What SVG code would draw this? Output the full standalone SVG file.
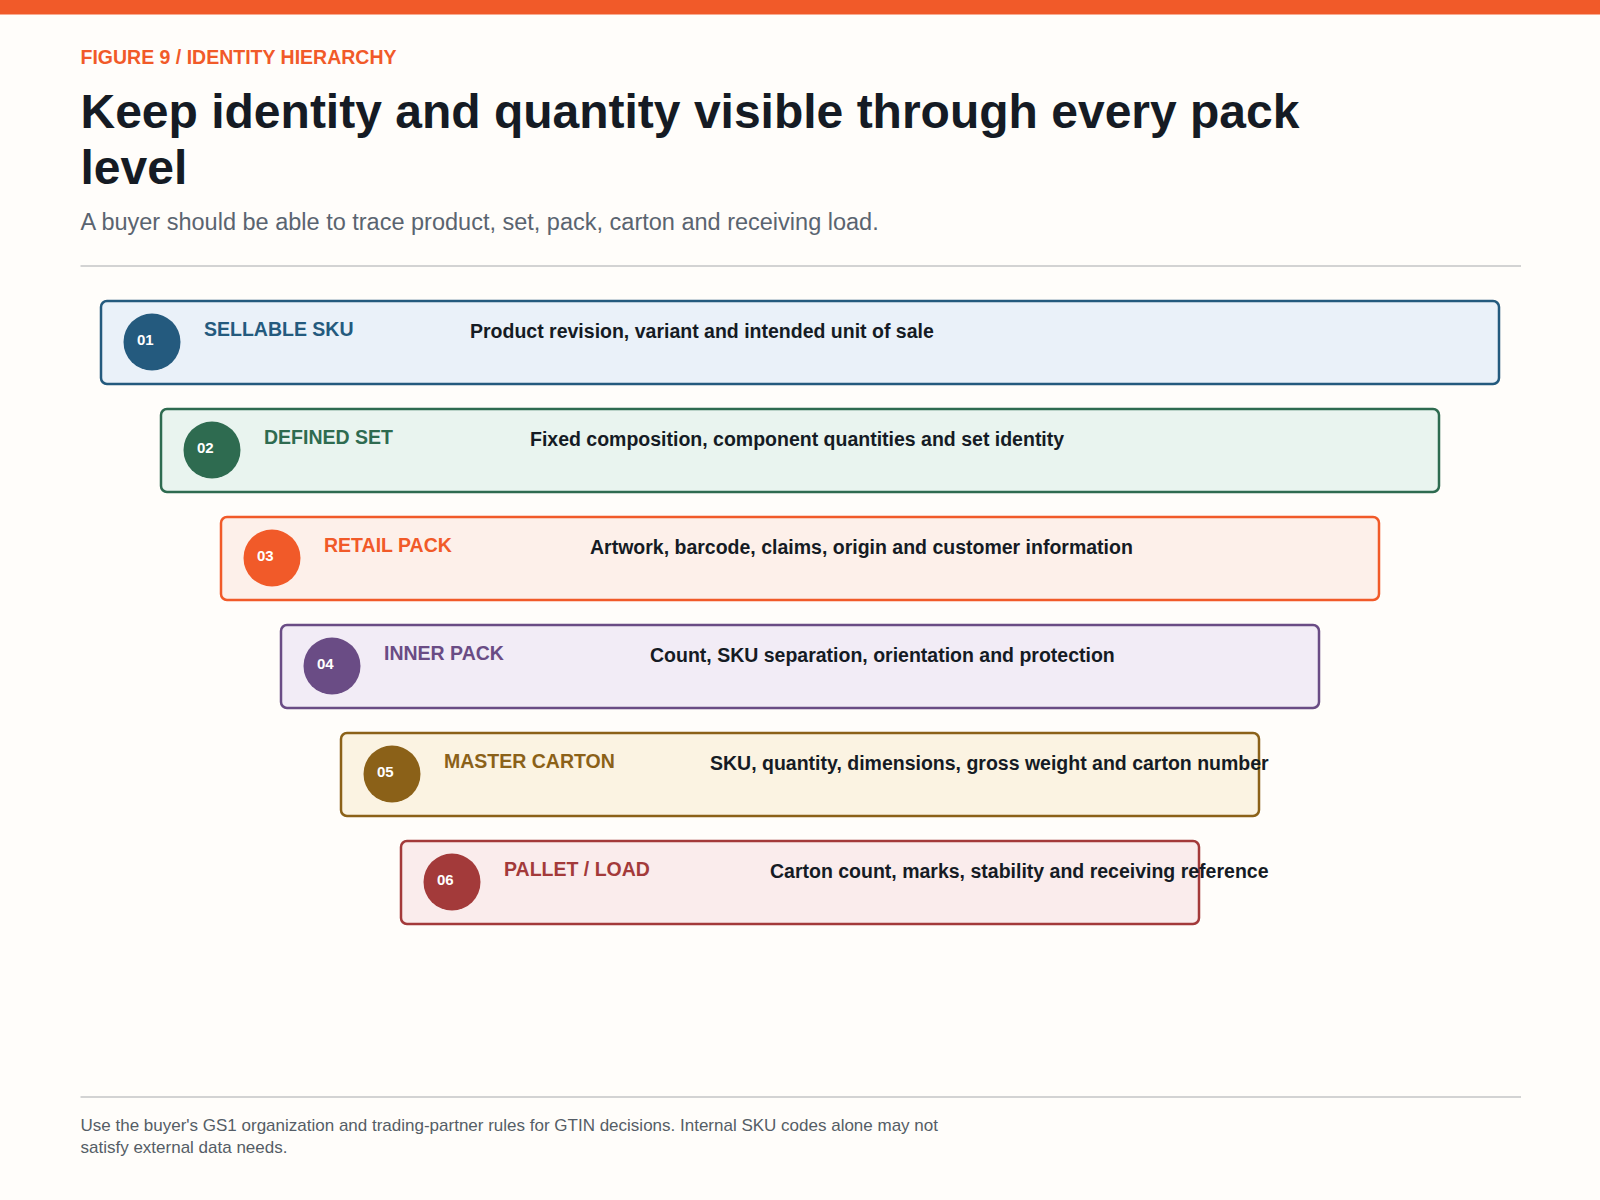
<svg xmlns="http://www.w3.org/2000/svg" width="1600" height="1200" viewBox="0 0 1600 1200">
<style>
text{font-family:"Liberation Sans",Arial,sans-serif}
.lab{font-size:19.5px;font-weight:bold}
.desc{font-size:19.5px;font-weight:bold;fill:#151b24}
.num{font-size:15px;font-weight:bold;fill:#fff}
.box{stroke-width:2.5}
</style>
<rect width="1600" height="1200" fill="#fffdfa"/>
<rect width="1600" height="14.5" fill="#f15a29"/>
<text x="80.5" y="64" font-size="19.5" font-weight="bold" fill="#f15a29">FIGURE 9 / IDENTITY HIERARCHY</text>
<text x="80.5" y="128" font-size="48" font-weight="bold" fill="#151b24">Keep identity and quantity visible through every pack</text>
<text x="80.5" y="184" font-size="48" font-weight="bold" fill="#151b24">level</text>
<text x="80.5" y="230" font-size="23.5" fill="#5a6470">A buyer should be able to trace product, set, pack, carton and receiving load.</text>
<line x1="80.5" y1="266" x2="1521" y2="266" stroke="#d3d3d3" stroke-width="2"/>
<g id="n1"><rect class="box" x="101" y="301" width="1398" height="83" rx="6" fill="#eaf1f9" stroke="#245a7e"/><circle cx="152" cy="342" r="28.5" fill="#245a7e"/><text class="num" x="137" y="345">01</text><text class="lab" x="204" y="336" fill="#245a7e">SELLABLE SKU</text><text class="desc" x="470" y="338">Product revision, variant and intended unit of sale</text></g>
<g id="n2"><rect class="box" x="161" y="409" width="1278" height="83" rx="6" fill="#e9f4ef" stroke="#2e6b50"/><circle cx="212" cy="450" r="28.5" fill="#2e6b50"/><text class="num" x="197" y="453">02</text><text class="lab" x="264" y="444" fill="#2e6b50">DEFINED SET</text><text class="desc" x="530" y="446">Fixed composition, component quantities and set identity</text></g>
<g id="n3"><rect class="box" x="221" y="517" width="1158" height="83" rx="6" fill="#fdf0ea" stroke="#f15a29"/><circle cx="272" cy="558" r="28.5" fill="#f15a29"/><text class="num" x="257" y="561">03</text><text class="lab" x="324" y="552" fill="#f15a29">RETAIL PACK</text><text class="desc" x="590" y="554">Artwork, barcode, claims, origin and customer information</text></g>
<g id="n4"><rect class="box" x="281" y="625" width="1038" height="83" rx="6" fill="#f2ecf6" stroke="#6a4c85"/><circle cx="332" cy="666" r="28.5" fill="#6a4c85"/><text class="num" x="317" y="669">04</text><text class="lab" x="384" y="660" fill="#6a4c85">INNER PACK</text><text class="desc" x="650" y="662">Count, SKU separation, orientation and protection</text></g>
<g id="n5"><rect class="box" x="341" y="733" width="918" height="83" rx="6" fill="#fbf3e2" stroke="#8b6118"/><circle cx="392" cy="774" r="28.5" fill="#8b6118"/><text class="num" x="377" y="777">05</text><text class="lab" x="444" y="768" fill="#8b6118">MASTER CARTON</text><text class="desc" x="710" y="770">SKU, quantity, dimensions, gross weight and carton number</text></g>
<g id="n6"><rect class="box" x="401" y="841" width="798" height="83" rx="6" fill="#faecec" stroke="#a33a3a"/><circle cx="452" cy="882" r="28.5" fill="#a33a3a"/><text class="num" x="437" y="885">06</text><text class="lab" x="504" y="876" fill="#a33a3a">PALLET / LOAD</text><text class="desc" x="770" y="878">Carton count, marks, stability and receiving reference</text></g>
<g id="connectors"/>
<line x1="80.5" y1="1097" x2="1521" y2="1097" stroke="#d3d3d3" stroke-width="2"/>
<text x="80.5" y="1131" font-size="17" fill="#555d66">Use the buyer's GS1 organization and trading-partner rules for GTIN decisions. Internal SKU codes alone may not</text>
<text x="80.5" y="1153" font-size="17" fill="#555d66">satisfy external data needs.</text>
</svg>
